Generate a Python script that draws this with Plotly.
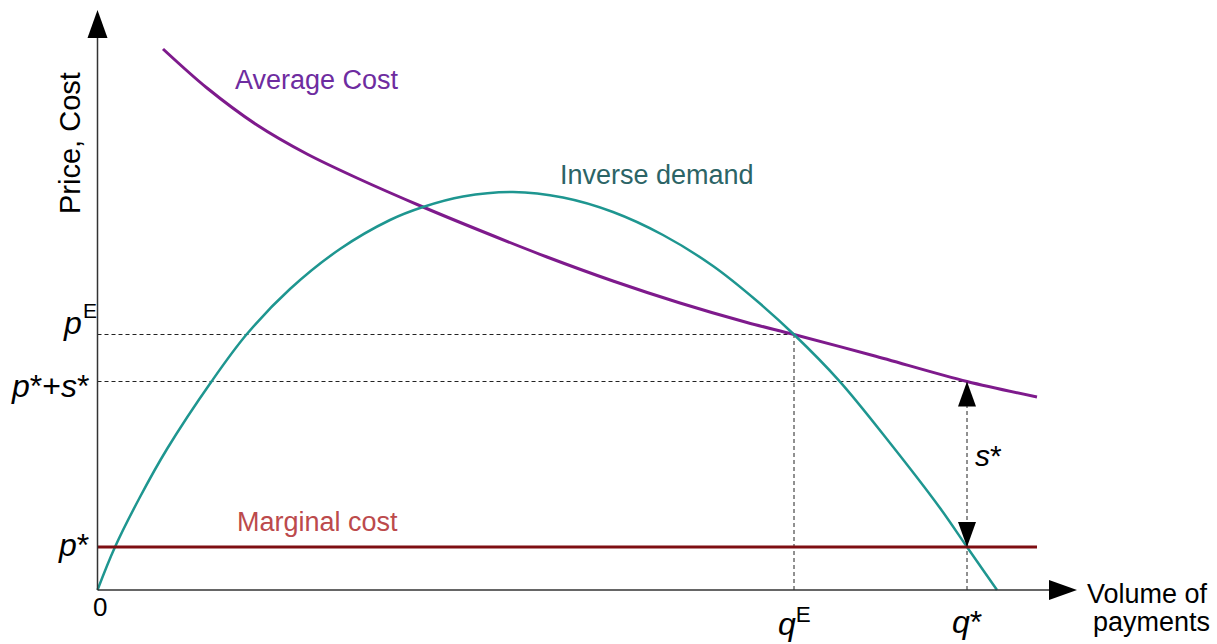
import plotly.graph_objects as go

# ---------------- data (schematic units) ----------------
demand_q = [0, 0.175, 0.425, 0.695, 1.14, 1.49, 1.925, 2.425, 2.925, 3.255, 3.655, 4.155,
            4.655, 5.155, 5.655, 6.155, 6.595, 6.965, 7.415, 7.925, 8.425, 8.695, 8.995]
demand_p = [0, 0.43, 0.93, 1.41, 2.085, 2.555, 3.01, 3.41, 3.70, 3.83, 3.935, 3.98,
            3.925, 3.78, 3.55, 3.24, 2.89, 2.555, 2.094, 1.47, 0.82, 0.43, 0.0]

ac_q = [0.655, 1.095, 1.595, 2.095, 2.595, 3.255, 3.825, 4.495, 5.155, 5.825, 6.495, 6.965, 7.755, 8.695, 9.395]
ac_p = [5.41, 5.02, 4.65, 4.36, 4.12, 3.83, 3.595, 3.33, 3.09, 2.87, 2.675, 2.555, 2.345, 2.085, 1.93]

mc_q = [0, 9.395]
p_star = 0.43
mc_p = [p_star, p_star]

q_E, p_E = 6.965, 2.555
q_star = 8.695
p_star_s = 2.085          # p* + s*

x_axis_end = 9.795
y_axis_end = 5.80

# ---------------- figure ----------------
W, H = 1217, 644
X0, X1 = -0.975, 11.195
Y0, Y1 = -0.54, 5.90
ux = (X1 - X0) / W   # data units per pixel
uy = (Y1 - Y0) / H

fig = go.Figure()

fig.add_trace(go.Scatter(x=ac_q, y=ac_p, mode="lines",
                         line=dict(color="#7E1A8C", width=3, shape="spline", smoothing=0.9),
                         hoverinfo="skip"))
fig.add_trace(go.Scatter(x=demand_q, y=demand_p, mode="lines",
                         line=dict(color="#1E9690", width=2.5, shape="spline", smoothing=1.0),
                         hoverinfo="skip"))
fig.add_trace(go.Scatter(x=mc_q, y=mc_p, mode="lines", line=dict(color="#7E0E12", width=3),
                         hoverinfo="skip"))

shapes = []
dash = dict(color="#222222", width=1, dash="4px,3px")
# guide lines
shapes.append(dict(type="line", x0=0, x1=q_E, y0=p_E, y1=p_E, line=dash, layer="below"))
shapes.append(dict(type="line", x0=0, x1=q_star, y0=p_star_s, y1=p_star_s, line=dash, layer="below"))
shapes.append(dict(type="line", x0=q_E, x1=q_E, y0=0, y1=p_E, line=dash, layer="below"))
shapes.append(dict(type="line", x0=q_star, x1=q_star, y0=0, y1=p_star_s, line=dash, layer="below"))

# axes
axis_line = dict(color="#333333", width=1.5)
ah_len, ah_half = 28, 10
shapes.append(dict(type="line", x0=0, x1=x_axis_end - ah_len * ux, y0=0, y1=0, line=axis_line))
shapes.append(dict(type="line", x0=0, x1=0, y0=0, y1=y_axis_end - ah_len * uy, line=axis_line))


def tri(tx, ty, direction, length, half):
    if direction == "right":
        pts = [(tx, ty), (tx - length * ux, ty + half * uy), (tx - length * ux, ty - half * uy)]
    elif direction == "up":
        pts = [(tx, ty), (tx - half * ux, ty - length * uy), (tx + half * ux, ty - length * uy)]
    else:  # down
        pts = [(tx, ty), (tx - half * ux, ty + length * uy), (tx + half * ux, ty + length * uy)]
    path = "M {} {} L {} {} L {} {} Z".format(*[v for p in pts for v in p])
    return dict(type="path", path=path, fillcolor="black", line=dict(color="black", width=0))


shapes.append(tri(x_axis_end, 0, "right", ah_len, ah_half))
shapes.append(tri(0, y_axis_end, "up", ah_len, ah_half))
# s* double arrow
shapes.append(tri(q_star, p_star_s, "up", 25, 9))
shapes.append(tri(q_star, p_star, "down", 25, 9))

FONT = "Liberation Sans, Arial, sans-serif"
ann = []


def txt(x, y, text, size, color="black", xanchor="center", yanchor="middle", angle=0):
    ann.append(dict(x=x, y=y, xref="x", yref="y", text=text, showarrow=False, xanchor=xanchor,
                    yanchor=yanchor, textangle=angle, font=dict(family=FONT, size=size, color=color)))


txt(-0.275, 4.47, "Price, Cost", 29, angle=-90)
txt(2.195, 5.10, "Average Cost", 27, color="#6E2CA0")
txt(5.595, 4.15, "Inverse demand", 27, color="#2C6466")
txt(2.195, 0.68, "Marginal cost", 27, color="#BC4A4C")
txt(10.495, -0.04, "Volume of", 27)
txt(10.535, -0.32, "payments", 27)
txt(0.02, -0.17, "0", 26)
txt(q_E, -0.32, "<i>q</i><sup>E</sup>", 32)
txt(q_star, -0.32, "<i>q</i>*", 32)
txt(-0.135, 2.67, "<i>p</i>", 32, xanchor="right")
txt(-0.075, 2.80, "E", 21)
txt(-0.07, 2.04, "<i>p</i>*+<i>s</i>*", 32, xanchor="right")
txt(-0.07, 0.45, "<i>p</i>*", 32, xanchor="right")
txt(8.905, 1.35, "<i>s</i>*", 30)

fig.update_layout(
    width=W, height=H, autosize=False,
    margin=dict(l=0, r=0, t=0, b=0),
    paper_bgcolor="white", plot_bgcolor="white",
    showlegend=False, hovermode=False,
    shapes=shapes, annotations=ann,
    xaxis=dict(range=[X0, X1], visible=False, fixedrange=True),
    yaxis=dict(range=[Y0, Y1], visible=False, fixedrange=True),
)

fig.write_html("out.html", config={"displayModeBar": False},
               post_script="document.body.style.margin='0';document.body.style.overflow='hidden';")
